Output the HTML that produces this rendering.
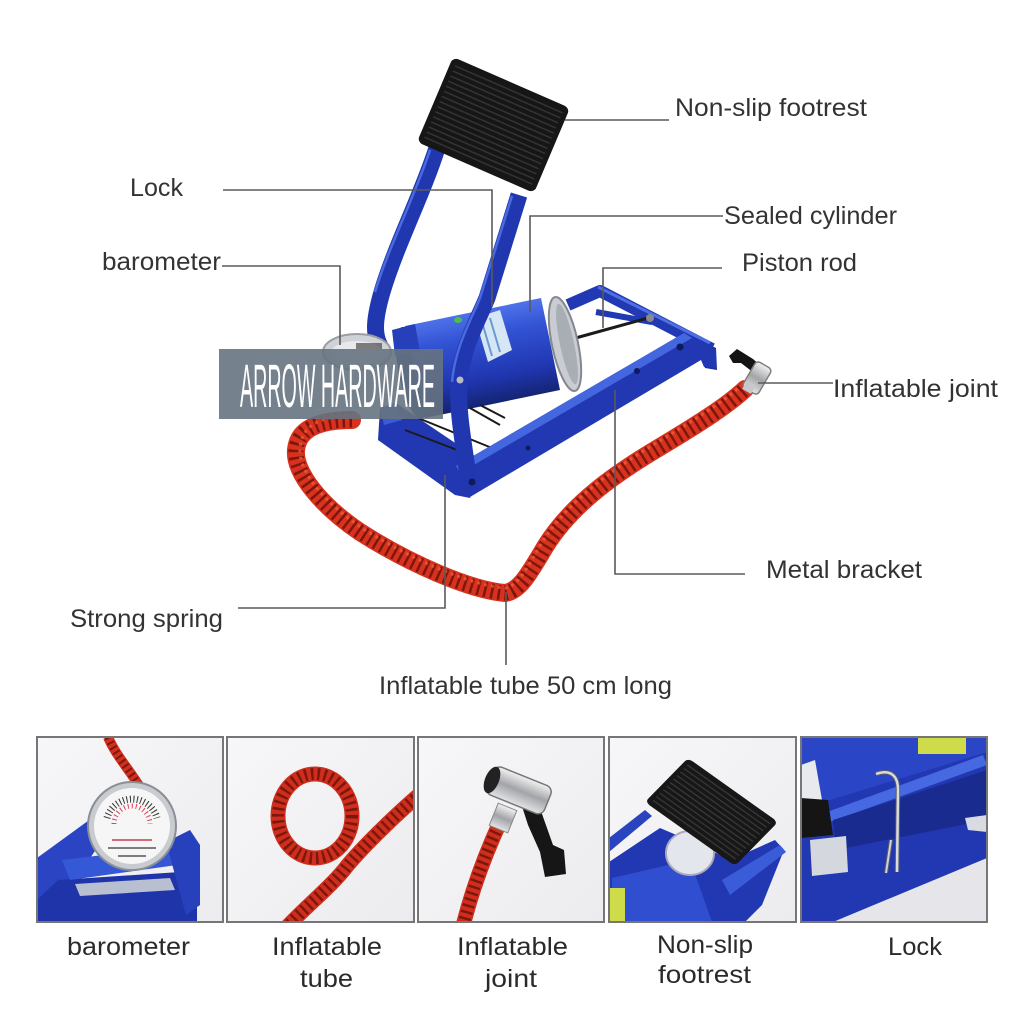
<!DOCTYPE html>
<html><head><meta charset="utf-8">
<style>
html,body{margin:0;padding:0;background:#fff;}
svg{display:block;}
.t{font-family:"Liberation Sans","DejaVu Sans",sans-serif;fill:#333;font-size:25px;}
.b{font-family:"Liberation Sans","DejaVu Sans",sans-serif;fill:#2a2a2a;font-size:25px;}
.ld{stroke:#5a5a5a;stroke-width:1.6;fill:none;}
</style></head><body>
<svg width="1024" height="1024" viewBox="0 0 1024 1024" xmlns="http://www.w3.org/2000/svg">
<defs>
<linearGradient id="cyl" gradientUnits="userSpaceOnUse" x1="410" y1="326" x2="428" y2="418">
<stop offset="0" stop-color="#4d70e8"/><stop offset="0.25" stop-color="#3253d4"/><stop offset="0.7" stop-color="#2036b0"/><stop offset="1" stop-color="#14236f"/>
</linearGradient>
<linearGradient id="silv" x1="0" y1="0" x2="0" y2="1">
<stop offset="0" stop-color="#f2f2f2"/><stop offset="0.5" stop-color="#a2a4a8"/><stop offset="1" stop-color="#e4e4e6"/>
</linearGradient>
<linearGradient id="bgg" x1="0" y1="0" x2="1" y2="1">
<stop offset="0" stop-color="#f7f7f9"/><stop offset="1" stop-color="#ececef"/>
</linearGradient>
<clipPath id="c1"><rect x="37" y="737" width="186" height="185"/></clipPath>
<clipPath id="c2"><rect x="227" y="737" width="187" height="185"/></clipPath>
<clipPath id="c3"><rect x="418" y="737" width="186" height="185"/></clipPath>
<clipPath id="c4"><rect x="609" y="737" width="187" height="185"/></clipPath>
<clipPath id="c5"><rect x="801" y="737" width="186" height="185"/></clipPath>
</defs>
<rect width="1024" height="1024" fill="#fff"/>

<!-- ===== MAIN PUMP ===== -->
<path d="M568,305 L600,291 L712,349" stroke="#2139b2" stroke-width="12" fill="none" stroke-linejoin="round"/>
<path d="M598,287 L710,343" stroke="#4e70e2" stroke-width="3" fill="none"/>
<path d="M596,312 L652,322" stroke="#2139b2" stroke-width="6" fill="none"/>
<polygon points="700,340 716,348 717,370 705,368" fill="#1c2f9c"/>
<line x1="572" y1="339" x2="648" y2="318" stroke="#1b1b1b" stroke-width="3"/>
<circle cx="650" cy="318" r="4" fill="#8a8a8a"/>

<!-- left leg -->
<path d="M437,148 C422,195 396,245 382,292 C374,320 372,338 384,352" stroke="#2137b0" stroke-width="17" fill="none"/>
<path d="M430,150 C415,196 389,246 375,292" stroke="#4a6ae0" stroke-width="2.5" fill="none"/>

<!-- gauge -->
<ellipse cx="357" cy="352" rx="34" ry="18" fill="#cfd2d6" stroke="#9a9ea4" stroke-width="2"/>
<ellipse cx="357" cy="353" rx="26" ry="12" fill="#e8e9ec"/>
<rect x="356" y="343" width="26" height="6" fill="#333" opacity="0.6"/>

<!-- cylinder -->
<ellipse cx="412" cy="373" rx="13" ry="47" transform="rotate(-12 412 373)" fill="#1a2b8a"/>
<polygon points="405,326 541,298 560,390 425,418" fill="url(#cyl)"/>
<polygon points="392,330 415,324 420,352 395,356" fill="#2540b8"/>
<ellipse cx="565" cy="344" rx="13" ry="48" transform="rotate(-12 565 344)" fill="#c9ccd2" stroke="#85888e" stroke-width="2"/>
<ellipse cx="567" cy="344" rx="7" ry="41" transform="rotate(-12 567 344)" fill="#a9adb4"/>
<polygon points="475,318 500,310 512,350 488,362" fill="#d7e6f4"/>
<line x1="482" y1="322" x2="492" y2="356" stroke="#6a9ad0" stroke-width="2"/>
<line x1="490" y1="318" x2="500" y2="352" stroke="#6a9ad0" stroke-width="2"/>
<ellipse cx="458" cy="320" rx="4" ry="3" fill="#4bbf4a"/>

<!-- front-left bracket and springs -->
<polygon points="380,408 396,403 470,453 480,470 470,498 455,495 378,440" fill="#2238b3"/>
<polygon points="380,408 396,403 402,420 384,425" fill="#3b5bd8"/>
<line x1="405" y1="430" x2="478" y2="458" stroke="#1a1a1a" stroke-width="2"/>
<line x1="418" y1="418" x2="492" y2="448" stroke="#1a1a1a" stroke-width="2"/>
<line x1="470" y1="408" x2="500" y2="425" stroke="#1a1a1a" stroke-width="2"/>
<line x1="480" y1="405" x2="505" y2="418" stroke="#1a1a1a" stroke-width="2"/>

<!-- front rail -->
<polygon points="456,466 684,333 703,341 716,350 716,368 704,367 701,360 470,497" fill="#2238b3"/>
<polygon points="456,466 684,333 692,338 460,473" fill="#4466de"/>
<circle cx="528" cy="448" r="2.5" fill="#0e1a5a"/>
<circle cx="637" cy="371" r="3" fill="#0e1a5a"/>
<circle cx="680" cy="347" r="3.5" fill="#0e1a5a"/>

<!-- right leg -->
<path d="M519,195 L487,298 C477,322 462,348 459,382 C457,412 464,445 470,490" stroke="#2137b0" stroke-width="17" fill="none"/>
<path d="M512,196 L480,298 C470,322 455,348 452,382" stroke="#4a6ae0" stroke-width="2.5" fill="none"/>
<circle cx="460" cy="380" r="3.5" fill="#b8bcc4"/>
<circle cx="472" cy="482" r="3.5" fill="#0e1a5a"/>

<!-- pad -->
<g transform="matrix(117 51 -36 85 453 57)">
<rect x="0" y="0" width="1" height="1" rx="0.05" ry="0.06" fill="#161616"/>
<g stroke="#343434" stroke-width="1.5">
<line x1="0.04" y1="0.08" x2="0.96" y2="0.08" vector-effect="non-scaling-stroke"/>
<line x1="0.04" y1="0.14" x2="0.96" y2="0.14" vector-effect="non-scaling-stroke"/>
<line x1="0.04" y1="0.20" x2="0.96" y2="0.20" vector-effect="non-scaling-stroke"/>
<line x1="0.04" y1="0.26" x2="0.96" y2="0.26" vector-effect="non-scaling-stroke"/>
<line x1="0.04" y1="0.32" x2="0.96" y2="0.32" vector-effect="non-scaling-stroke"/>
<line x1="0.04" y1="0.38" x2="0.96" y2="0.38" vector-effect="non-scaling-stroke"/>
<line x1="0.04" y1="0.44" x2="0.96" y2="0.44" vector-effect="non-scaling-stroke"/>
<line x1="0.04" y1="0.50" x2="0.96" y2="0.50" vector-effect="non-scaling-stroke"/>
<line x1="0.04" y1="0.56" x2="0.96" y2="0.56" vector-effect="non-scaling-stroke"/>
<line x1="0.04" y1="0.62" x2="0.96" y2="0.62" vector-effect="non-scaling-stroke"/>
<line x1="0.04" y1="0.68" x2="0.96" y2="0.68" vector-effect="non-scaling-stroke"/>
<line x1="0.04" y1="0.74" x2="0.96" y2="0.74" vector-effect="non-scaling-stroke"/>
<line x1="0.04" y1="0.80" x2="0.96" y2="0.80" vector-effect="non-scaling-stroke"/>
<line x1="0.04" y1="0.86" x2="0.96" y2="0.86" vector-effect="non-scaling-stroke"/>
<line x1="0.04" y1="0.92" x2="0.96" y2="0.92" vector-effect="non-scaling-stroke"/>
</g>
</g>

<!-- hose -->
<path d="M352,420 C320,420 298,428 296,450 C294,472 320,505 360,532 C410,564 470,590 505,593 C520,591 530,572 545,547 C572,503 618,472 660,447 C700,423 728,405 745,389" stroke="#d8321e" stroke-width="18" fill="none" stroke-linecap="round"/>
<path d="M352,420 C320,420 298,428 296,450 C294,472 320,505 360,532 C410,564 470,590 505,593 C520,591 530,572 545,547 C572,503 618,472 660,447 C700,423 728,405 745,389" stroke="#7d170d" stroke-width="15" fill="none" stroke-dasharray="2.5 4.5"/>
<path d="M352,416 C322,416 302,424 300,448 C298,470 322,501 362,528 C412,560 470,585 505,588 C518,586 527,568 541,544 C568,500 614,469 656,443 C696,419 724,401 741,386" stroke="#f0603f" stroke-width="3" fill="none" stroke-dasharray="3 4" opacity="0.7"/>

<!-- inflatable joint -->
<polygon points="729,356 737,349 753,359 762,367 754,373 741,363 733,363" fill="#141414"/>
<g transform="rotate(30 757 378)"><rect x="748" y="363" width="18" height="30" rx="4" fill="url(#silv)" stroke="#7f7f7f" stroke-width="1.5"/></g>
<rect x="744" y="382" width="10" height="10" fill="#c8c8cc" transform="rotate(30 749 387)"/>

<!-- watermark -->
<rect x="219" y="349" width="224" height="70" fill="#66737f" opacity="0.9"/>
<text x="240" y="407" font-family="'Liberation Sans Narrow','Liberation Sans',sans-serif" font-size="61" fill="#ffffff" textLength="195" lengthAdjust="spacingAndGlyphs">ARROW HARDWARE</text>

<!-- leader lines -->
<path class="ld" d="M565,120 H669"/>
<path class="ld" d="M223,190 H492 V307"/>
<path class="ld" d="M222,266 H340 V345"/>
<path class="ld" d="M723,216 H530 V312"/>
<path class="ld" d="M722,268 H603 V328"/>
<path class="ld" d="M758,383 H833"/>
<path class="ld" d="M745,574 H615 V390"/>
<path class="ld" d="M238,608 H445 V475"/>
<path class="ld" d="M506,592 V665"/>

<!-- labels -->
<text class="t" x="675" y="116" textLength="192" lengthAdjust="spacingAndGlyphs">Non-slip footrest</text>
<text class="t" x="130" y="196" textLength="53" lengthAdjust="spacingAndGlyphs">Lock</text>
<text class="t" x="102" y="270" textLength="119" lengthAdjust="spacingAndGlyphs">barometer</text>
<text class="t" x="724" y="224" textLength="173" lengthAdjust="spacingAndGlyphs">Sealed cylinder</text>
<text class="t" x="742" y="271" textLength="115" lengthAdjust="spacingAndGlyphs">Piston rod</text>
<text class="t" x="833" y="397" textLength="165" lengthAdjust="spacingAndGlyphs">Inflatable joint</text>
<text class="t" x="766" y="578" textLength="156" lengthAdjust="spacingAndGlyphs">Metal bracket</text>
<text class="t" x="70" y="627" textLength="153" lengthAdjust="spacingAndGlyphs">Strong spring</text>
<text class="t" x="379" y="694" textLength="293" lengthAdjust="spacingAndGlyphs">Inflatable tube 50 cm long</text>

<!-- ===== BOX 1: barometer ===== -->
<g clip-path="url(#c1)">
<rect x="37" y="737" width="186" height="185" fill="url(#bgg)"/>
<polygon points="37,858 92,818 112,826 58,905 37,922" fill="#2a44c4"/>
<polygon points="37,900 58,880 180,872 197,900 197,922 37,922" fill="#1e34a8"/>
<polygon points="62,860 178,846 184,864 70,880" fill="#3558d6"/>
<polygon points="166,842 190,830 200,845 200,905 186,915" fill="#2740bc"/>
<polygon points="75,884 170,878 175,890 80,896" fill="#b8bfd0"/>
<path d="M108,737 C116,756 130,770 143,792" stroke="#d0301e" stroke-width="10" fill="none"/>
<path d="M108,737 C116,756 130,770 143,792" stroke="#7d170d" stroke-width="8" fill="none" stroke-dasharray="2 3.5"/>
<circle cx="132" cy="826" r="44" fill="#c8cbd0" stroke="#8a8e95" stroke-width="2"/>
<circle cx="132" cy="826" r="38" fill="#f6f6f6"/>
<path d="M107,818 A26,26 0 0 1 157,818" stroke="#333" stroke-width="7" stroke-dasharray="1 2.5" fill="none"/>
<path d="M114,824 A18,18 0 0 1 150,824" stroke="#e0405a" stroke-width="5" stroke-dasharray="1 3" fill="none"/>
<line x1="112" y1="840" x2="152" y2="840" stroke="#c04050" stroke-width="1.5"/>
<line x1="108" y1="848" x2="156" y2="848" stroke="#555" stroke-width="1.5"/>
<line x1="118" y1="856" x2="146" y2="856" stroke="#555" stroke-width="1.5"/>
</g>
<rect x="37" y="737" width="186" height="185" fill="none" stroke="#767676" stroke-width="2"/>

<!-- ===== BOX 2: tube ===== -->
<g clip-path="url(#c2)">
<rect x="227" y="737" width="187" height="185" fill="url(#bgg)"/>
<ellipse cx="315" cy="816" rx="37" ry="42" stroke="#cf2e1c" stroke-width="15" fill="none"/>
<ellipse cx="315" cy="816" rx="37" ry="42" stroke="#7d170d" stroke-width="12" fill="none" stroke-dasharray="2.5 4"/>
<path d="M420,794 C392,818 362,848 347,866 C332,886 304,908 286,928" stroke="#cf2e1c" stroke-width="15" fill="none"/>
<path d="M420,794 C392,818 362,848 347,866 C332,886 304,908 286,928" stroke="#7d170d" stroke-width="12" fill="none" stroke-dasharray="2.5 4"/>
</g>
<rect x="227" y="737" width="187" height="185" fill="none" stroke="#767676" stroke-width="2"/>

<!-- ===== BOX 3: joint ===== -->
<g clip-path="url(#c3)">
<rect x="418" y="737" width="186" height="185" fill="url(#bgg)"/>
<path d="M463,926 C474,882 489,846 501,820" stroke="#cf2e1c" stroke-width="15" fill="none"/>
<path d="M463,926 C474,882 489,846 501,820" stroke="#7d170d" stroke-width="12" fill="none" stroke-dasharray="2.5 4"/>
<polygon points="520,800 536,797 553,845 564,850 566,874 545,877 540,852 528,825" fill="#161616"/>
<g transform="rotate(22 518 790)"><rect x="488" y="775" width="62" height="30" rx="7" fill="url(#silv)" stroke="#777" stroke-width="1.5"/></g>
<ellipse cx="492" cy="780" rx="7" ry="14" fill="#222" transform="rotate(22 492 780)"/>
<g transform="rotate(22 503 818)"><rect x="493" y="806" width="20" height="24" fill="url(#silv)" stroke="#888" stroke-width="1"/></g>
</g>
<rect x="418" y="737" width="186" height="185" fill="none" stroke="#767676" stroke-width="2"/>

<!-- ===== BOX 4: footrest ===== -->
<g clip-path="url(#c4)">
<rect x="609" y="737" width="187" height="185" fill="url(#bgg)"/>
<polygon points="609,838 645,810 652,816 609,852" fill="#2a44c0"/>
<polygon points="609,862 660,828 700,845 730,860 775,840 784,850 762,905 745,922 609,922" fill="#2238b3"/>
<polygon points="612,878 690,860 712,922 612,922" fill="#2f4fd0"/>
<ellipse cx="690" cy="853" rx="24" ry="22" fill="#e3e6ec" stroke="#aab" stroke-width="2"/>
<polygon points="722,880 780,845 786,852 730,895" fill="#3a5cd8"/>
<rect x="609" y="888" width="16" height="34" fill="#cfdc4a"/>
<g transform="matrix(90 64 -43 44 688 758)">
<rect x="0" y="0" width="1" height="1" rx="0.05" ry="0.07" fill="#171717"/>
<g stroke="#383838" stroke-width="1.3">
<line x1="0.04" y1="0.10" x2="0.96" y2="0.10" vector-effect="non-scaling-stroke"/>
<line x1="0.04" y1="0.18" x2="0.96" y2="0.18" vector-effect="non-scaling-stroke"/>
<line x1="0.04" y1="0.26" x2="0.96" y2="0.26" vector-effect="non-scaling-stroke"/>
<line x1="0.04" y1="0.34" x2="0.96" y2="0.34" vector-effect="non-scaling-stroke"/>
<line x1="0.04" y1="0.42" x2="0.96" y2="0.42" vector-effect="non-scaling-stroke"/>
<line x1="0.04" y1="0.50" x2="0.96" y2="0.50" vector-effect="non-scaling-stroke"/>
<line x1="0.04" y1="0.58" x2="0.96" y2="0.58" vector-effect="non-scaling-stroke"/>
<line x1="0.04" y1="0.66" x2="0.96" y2="0.66" vector-effect="non-scaling-stroke"/>
<line x1="0.04" y1="0.74" x2="0.96" y2="0.74" vector-effect="non-scaling-stroke"/>
<line x1="0.04" y1="0.82" x2="0.96" y2="0.82" vector-effect="non-scaling-stroke"/>
<line x1="0.04" y1="0.90" x2="0.96" y2="0.90" vector-effect="non-scaling-stroke"/>
</g>
</g>
</g>
<rect x="609" y="737" width="187" height="185" fill="none" stroke="#767676" stroke-width="2"/>

<!-- ===== BOX 5: lock ===== -->
<g clip-path="url(#c5)">
<rect x="801" y="737" width="186" height="185" fill="#2238b3"/>
<polygon points="801,737 987,737 987,752 830,800 801,805" fill="#2a46c6"/>
<rect x="918" y="737" width="48" height="17" fill="#cfdc4a"/>
<polygon points="801,765 815,760 822,800 801,810" fill="#e8eaee"/>
<polygon points="827,812 983,755 987,765 830,822" fill="#4668e0"/>
<polygon points="833,820 987,770 987,820 836,850" fill="#1a2b90"/>
<polygon points="801,798 828,800 833,835 801,838" fill="#151515"/>
<polygon points="810,840 846,836 848,872 812,876" fill="#d4d8de"/>
<polygon points="833,922 987,858 987,922" fill="#e6e6ea"/>
<polygon points="965,818 987,815 987,832 968,830" fill="#d8dbe2"/>
<path d="M876,774 C890,769 898,775 898,790 L897,872" stroke="#5a5e66" stroke-width="4.5" fill="none"/>
<path d="M876,774 C890,769 898,775 898,790 L897,872" stroke="#d8dadf" stroke-width="2.5" fill="none"/>
<path d="M891,840 L886,873" stroke="#5a5e66" stroke-width="4" fill="none"/>
<path d="M891,840 L886,873" stroke="#cfd2d8" stroke-width="2" fill="none"/>
</g>
<rect x="801" y="737" width="186" height="185" fill="none" stroke="#767676" stroke-width="2"/>

<!-- bottom labels -->
<text class="b" x="67" y="955" textLength="123" lengthAdjust="spacingAndGlyphs">barometer</text>
<text class="b" x="272" y="955" textLength="110" lengthAdjust="spacingAndGlyphs">Inflatable</text>
<text class="b" x="300" y="987" textLength="53" lengthAdjust="spacingAndGlyphs">tube</text>
<text class="b" x="457" y="955" textLength="111" lengthAdjust="spacingAndGlyphs">Inflatable</text>
<text class="b" x="485" y="987" textLength="52" lengthAdjust="spacingAndGlyphs">joint</text>
<text class="b" x="657" y="953" textLength="96" lengthAdjust="spacingAndGlyphs">Non-slip</text>
<text class="b" x="658" y="983" textLength="93" lengthAdjust="spacingAndGlyphs">footrest</text>
<text class="b" x="888" y="955" textLength="54" lengthAdjust="spacingAndGlyphs">Lock</text>
</svg>
</body></html>
